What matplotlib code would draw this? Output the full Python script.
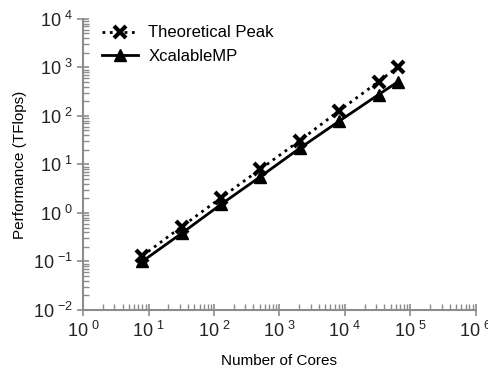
import math
import matplotlib
matplotlib.use("Agg")
import matplotlib.pyplot as plt
from matplotlib.ticker import FuncFormatter, LogLocator

plt.rcParams["font.family"] = "Liberation Sans"
plt.rcParams["mathtext.fontset"] = "custom"
plt.rcParams["mathtext.rm"] = "Liberation Sans"

# data
cores = [8, 32, 128, 512, 2048, 8192, 32768, 65536]
peak = [0.13, 0.52, 2.05, 8.0, 31, 128, 510, 1040]
xmp = [0.10, 0.38, 1.5, 5.6, 21.6, 78, 275, 510]


def pow_label(v, pos):
    e = round(math.log10(v))
    s = str(abs(e)) if e >= 0 else "{-}" + str(abs(e))
    return r"$\mathregular{10^{\ %s}}$" % s


fig = plt.figure(figsize=(4.89, 3.69), dpi=100)
ax = fig.add_axes([0.170, 0.160, 0.803, 0.789])

ax.plot(cores, peak, color="black", linestyle=":", linewidth=2,
        marker="x", markersize=9, markeredgewidth=3, label="Theoretical Peak")
ax.plot(cores, xmp, color="black", linestyle="-", linewidth=2,
        marker="^", markersize=8, label="XcalableMP")

ax.set_xscale("log")
ax.set_yscale("log")
ax.set_xlim(1, 1e6)
ax.set_ylim(1e-2, 1e4)

grey = "#8c8c8c"
for s in ["top", "right"]:
    ax.spines[s].set_visible(False)
for s in ["left", "bottom"]:
    ax.spines[s].set_color(grey)
    ax.spines[s].set_linewidth(1.5)

ax.xaxis.set_major_locator(LogLocator(base=10, numticks=10))
ax.yaxis.set_major_locator(LogLocator(base=10, numticks=10))
ax.xaxis.set_minor_locator(LogLocator(base=10, subs=range(2, 10), numticks=20))
ax.yaxis.set_minor_locator(LogLocator(base=10, subs=range(2, 10), numticks=20))

ax.xaxis.set_major_formatter(FuncFormatter(pow_label))
ax.yaxis.set_major_formatter(FuncFormatter(pow_label))

ax.tick_params(which="major", direction="inout", length=8, width=1.2,
               color=grey, labelsize=13, labelcolor="#222222")
ax.tick_params(which="minor", direction="in", length=4, width=1,
               color=grey)
ax.tick_params(axis="x", which="major", pad=4)

ax.set_xlabel("Number of Cores", fontsize=11, labelpad=9)
ax.set_ylabel("Performance (TFlops)", fontsize=11, labelpad=4)

ax.legend(loc="upper left", frameon=False, fontsize=12, handlelength=2.2,
          handletextpad=0.6, borderaxespad=0.0, bbox_to_anchor=(0.03, 1.0),
          labelspacing=0.5)

fig.savefig("out.png", dpi=100)
